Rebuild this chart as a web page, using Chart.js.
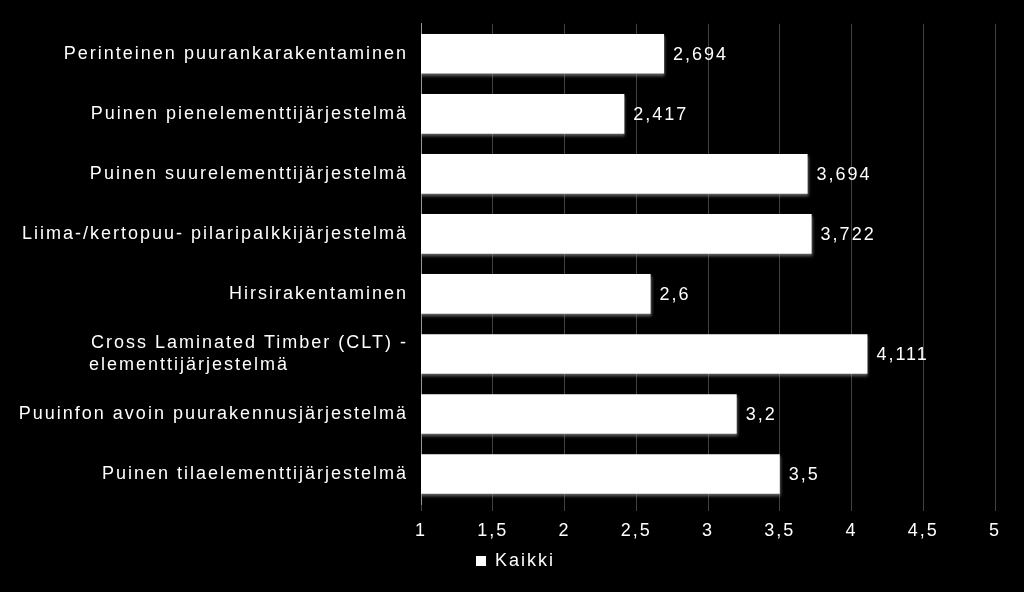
<!DOCTYPE html>
<html>
<head>
<meta charset="utf-8">
<script src="https://cdn.jsdelivr.net/npm/chart.js@4"></script>
<style>
  html, body { margin: 0; padding: 0; background: #000; }
  #wrap { width: 1024px; height: 592px; }
</style>
</head>
<body>
<div id="wrap"><canvas id="c"></canvas></div>
<script>
// data
const categories = [
    'Perinteinen puurankarakentaminen',
    'Puinen pienelementtijärjestelmä',
    'Puinen suurelementtijärjestelmä',
    'Liima-/kertopuu- pilaripalkkijärjestelmä',
    'Hirsirakentaminen',
    ['Cross Laminated Timber (CLT) -', 'elementtijärjestelmä                 '],
    'Puuinfon avoin puurakennusjärjestelmä',
    'Puinen tilaelementtijärjestelmä'
];
const kaikki = [2.694, 2.417, 3.694, 3.722, 2.6, 4.111, 3.2, 3.5];
const seriesName = 'Kaikki';

const fontFamily = '"Liberation Sans", Arial, sans-serif';
const fmt = v => String(v).replace('.', ',');

// väli kirjainten väliin kuten alkuperäisessä
const spacing = {
    id: 'spacing',
    beforeDraw(chart) { chart.ctx.letterSpacing = '2px'; }
};

// selite hieman oikealle
const legendShift = {
    id: 'legendShift',
    afterLayout(chart) {
        chart.legend.left += 12;
        chart.legend.right += 12;
    }
};

// pieni varjo palkeille
const barShadow = {
    id: 'barShadow',
    beforeDatasetsDraw(chart) {
        const ctx = chart.ctx;
        ctx.save();
        ctx.shadowColor = 'rgba(150,150,150,0.7)';
        ctx.shadowBlur = 3;
        ctx.shadowOffsetX = 1;
        ctx.shadowOffsetY = 2;
    },
    afterDatasetsDraw(chart) {
        chart.ctx.restore();
    }
};

// arvot palkkien perään
const valueLabels = {
    id: 'valueLabels',
    afterDatasetsDraw(chart) {
        const ctx = chart.ctx;
        ctx.save();
        ctx.letterSpacing = '2px';
        ctx.font = '18px ' + fontFamily;
        ctx.fillStyle = '#fff';
        ctx.textAlign = 'left';
        ctx.textBaseline = 'middle';
        chart.getDatasetMeta(0).data.forEach((bar, i) => {
            ctx.fillText(fmt(kaikki[i]), bar.x + 9, bar.y + 1);
        });
        ctx.restore();
    }
};

Chart.defaults.font.family = fontFamily;
Chart.defaults.font.size = 18;
Chart.defaults.color = '#fff';

new Chart(document.getElementById('c'), {
    type: 'bar',
    data: {
        labels: categories,
        datasets: [{
            label: seriesName,
            data: kaikki,
            backgroundColor: '#fff',
            borderWidth: 0,
            barPercentage: 0.66,
            categoryPercentage: 1
        }]
    },
    options: {
        indexAxis: 'y',
        responsive: true,
        maintainAspectRatio: false,
        animation: false,
        layout: {padding: {top: 22, right: 29, bottom: 12, left: 0}},
        scales: {
            x: {
                min: 1, max: 5,
                ticks: {stepSize: 0.5, callback: v => fmt(v), padding: 9, maxRotation: 0},
                grid: {color: 'rgba(255,255,255,0.26)', tickLength: 7, lineWidth: 1},
                border: {display: false},
                afterFit: s => { s.height = 40; }
            },
            y: {
                ticks: {padding: 13, autoSkip: false},
                grid: {display: false, drawTicks: false},
                border: {display: true, color: '#999', width: 1},
                afterFit: s => { s.width = 421; }
            }
        },
        plugins: {
            legend: {
                position: 'bottom',
                labels: {boxWidth: 10, boxHeight: 10, color: '#fff', padding: 8, font: {size: 18}}
            },
            tooltip: {enabled: false}
        }
    },
    plugins: [spacing, legendShift, barShadow, valueLabels]
});
</script>
</body>
</html>
